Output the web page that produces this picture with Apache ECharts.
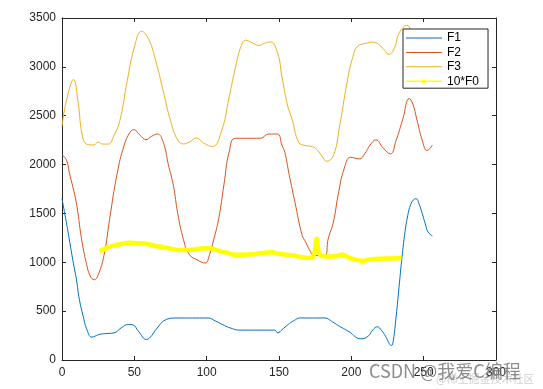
<!DOCTYPE html>
<html>
<head>
<meta charset="utf-8">
<script src="https://cdn.jsdelivr.net/npm/echarts@6/dist/echarts.min.js"></script>
<style>html,body{margin:0;padding:0;background:#fff}#c{width:543px;height:389px}</style>
</head>
<body>
<div id="c"></div>
<script>
// ---- data ----
const xTicks = [0, 50, 100, 150, 200, 250, 300];
const yTicks = [0, 500, 1000, 1500, 2000, 2500, 3000, 3500];
const seriesNames = ['F1', 'F2', 'F3', '10*F0'];

const f1X = [0, 2.5, 5, 7.5, 10, 12, 14.6, 17, 20.6, 23, 25.5, 30, 36, 41, 46, 49, 53, 58.4, 62, 65, 72.3, 79.5, 101, 106, 110.7, 116, 122.8, 146.8, 149.2, 152, 156.4, 160, 164.8, 181.6, 187, 192.4, 199.6, 204, 206.8, 211.6, 215, 218, 221, 223.6, 227.7, 229, 231, 233, 235, 237, 239, 241, 243, 244.8, 247, 249, 251, 253, 256];
const f1Y = [1650, 1450, 1240, 1020, 820, 620, 450, 320, 234, 245, 261, 270, 278, 330, 364, 360, 290, 210, 250, 313, 416, 430, 430, 400, 364, 330, 306, 306, 278, 310, 364, 400, 430, 430, 390, 340, 278, 225, 217, 244, 310, 340, 300, 244, 148, 200, 450, 750, 1050, 1300, 1480, 1590, 1640, 1650, 1590, 1500, 1400, 1310, 1270];

const f2X = [0, 3, 5, 9.8, 13.5, 17, 19.5, 22.3, 25, 29, 33, 38, 43, 47, 49.5, 54, 58, 62, 66, 70, 73.5, 77, 80, 84, 88, 94, 99, 102, 105, 108.3, 112, 115.5, 120, 137, 143, 149, 152, 154, 157, 161, 166, 168.5, 172, 174, 181.6, 184, 187.6, 191, 195, 199.6, 205.6, 209.2, 213, 217, 222, 227, 231, 235.6, 240, 242.5, 245.2, 249, 252.4, 256];
const f2Y = [2100, 2050, 1922, 1616, 1240, 980, 860, 821, 870, 1069, 1450, 1900, 2200, 2330, 2357, 2300, 2255, 2290, 2313, 2228, 2000, 1786, 1500, 1230, 1080, 1020, 993, 1080, 1240, 1445, 1800, 2126, 2269, 2269, 2313, 2313, 2200, 2126, 1900, 1616, 1276, 1206, 1100, 1069, 1069, 1240, 1412, 1700, 1956, 2075, 2058, 2109, 2200, 2252, 2170, 2109, 2250, 2466, 2676, 2620, 2466, 2250, 2143, 2200];

const f3X = [0, 3, 8, 11, 14, 17, 22, 25, 28, 32, 36, 40, 45, 50, 55, 60, 65, 70, 75, 80, 84, 88, 93, 98, 104, 110.7, 115, 120, 124, 127, 131, 136, 140, 144, 149, 152, 156, 159, 163.6, 168, 173, 176.8, 180, 182.8, 187.6, 192, 197, 201, 204.4, 210, 215, 219, 223, 226, 230, 233, 238.5, 242, 247, 252, 256];
const f3Y = [2390, 2650, 2870, 2650, 2300, 2210, 2200, 2230, 2210, 2210, 2300, 2450, 2850, 3200, 3364, 3280, 3050, 2750, 2450, 2250, 2211, 2230, 2272, 2220, 2184, 2364, 2650, 3000, 3220, 3273, 3250, 3219, 3240, 3256, 3144, 2900, 2600, 2466, 2228, 2195, 2184, 2143, 2080, 2034, 2092, 2400, 2839, 3100, 3212, 3240, 3253, 3229, 3170, 3127, 3200, 3347, 3425, 3340, 3200, 3100, 3050];

const f0X = [26, 30, 34, 40, 47, 52, 58, 64, 70, 75, 79.5, 85, 91.7, 96, 101, 106, 110, 113, 117, 120.5, 126, 132.4, 138, 144.6, 149, 154, 160, 166, 170, 173, 174.5, 176, 177.5, 179, 185, 190, 193.6, 196, 199.6, 204, 208, 212, 216.4, 222, 228, 234.6];
const f0Y = [1113, 1140, 1165, 1185, 1199, 1195, 1189, 1170, 1155, 1140, 1127, 1125, 1131, 1140, 1144, 1130, 1110, 1103, 1085, 1076, 1080, 1082, 1095, 1103, 1090, 1079, 1070, 1052, 1045, 1050, 1100, 1240, 1100, 1069, 1058, 1065, 1079, 1065, 1041, 1025, 1014, 1025, 1034, 1038, 1040, 1045];

const colors = ['#0072BD', '#D95319', '#EDB120', '#FFFF00'];
const widths = [1, 1, 1, 4.5];
const xs = [f1X, f2X, f3X, f0X];
const ys = [f1Y, f2Y, f3Y, f0Y];

const FONT = 'Liberation Sans';
const AX = '#262626';

function axisCommon(showLabel) {
  return {
    type: 'value',
    axisLine: { show: true, onZero: false, lineStyle: { color: AX, width: 1 } },
    axisTick: { show: true, inside: true, length: 4, lineStyle: { color: AX } },
    axisLabel: { show: showLabel, color: AX, fontSize: 12, fontFamily: FONT, formatter: v => String(v) },
    splitLine: { show: false }
  };
}

const xAxes = [
  Object.assign(axisCommon(true), { position: 'bottom', min: xTicks[0], max: xTicks[xTicks.length - 1], interval: xTicks[1] - xTicks[0] }),
  Object.assign(axisCommon(false), { position: 'top', min: xTicks[0], max: xTicks[xTicks.length - 1], interval: xTicks[1] - xTicks[0] })
];
xAxes[0].axisLabel.margin = 7;
const yAxes = [
  Object.assign(axisCommon(true), { position: 'left', min: yTicks[0], max: yTicks[yTicks.length - 1], interval: yTicks[1] - yTicks[0] }),
  Object.assign(axisCommon(false), { position: 'right', min: yTicks[0], max: yTicks[yTicks.length - 1], interval: yTicks[1] - yTicks[0] })
];
yAxes[0].axisLabel.margin = 6;

const series = seriesNames.map((name, i) => ({
  name: name,
  type: 'line',
  xAxisIndex: 0,
  yAxisIndex: 0,
  data: xs[i].map((x, k) => [x, ys[i][k]]),
  showSymbol: false,
  symbol: 'none',
  smooth: 0.45,
  lineStyle: { color: colors[i], width: widths[i] },
  itemStyle: { color: colors[i] },
  animation: false,
  z: 2 + i * 0.01
}));

const thinIcon = 'path://M0,0 H36 V1 H0 Z';
const f0Icon = 'path://M0,1 H36 V2.4 H0 Z M16.5,0 H19.5 V3.4 H16.5 Z';

const chart = echarts.init(document.getElementById('c'), null, { renderer: 'canvas' });
chart.setOption({
  backgroundColor: '#ffffff',
  animation: false,
  grid: { left: 62, right: 47, top: 18, bottom: 29, containLabel: false },
  xAxis: xAxes,
  yAxis: yAxes,
  legend: {
    orient: 'vertical',
    left: 403,
    top: 29,
    padding: [3, 9, 1, 3],
    itemWidth: 36,
    itemHeight: 14,
    itemGap: 2.4,
    itemTextGap: 5,
    backgroundColor: '#ffffff',
    borderColor: AX,
    borderWidth: 1,
    borderRadius: 0,
    textStyle: { color: '#000', fontSize: 12, fontFamily: FONT },
    data: seriesNames.map((n, i) => ({ name: n, icon: i === 3 ? f0Icon : thinIcon })),
    selectedMode: false
  },
  graphic: [
    {
      type: 'text', left: 369, top: 362, z: 100,
      style: { text: 'CSDN @我爱C编程', fill: 'rgba(120,120,120,0.85)', fontSize: 18, fontFamily: 'Noto Sans CJK SC' }
    },
    {
      type: 'text', left: 436, top: 373, z: 99,
      style: { text: '@稀土掘金技术社区', fill: 'rgba(190,190,190,0.7)', fontSize: 11, fontFamily: 'Noto Sans CJK SC' }
    }
  ],
  series: series
});
</script>
</body>
</html>
